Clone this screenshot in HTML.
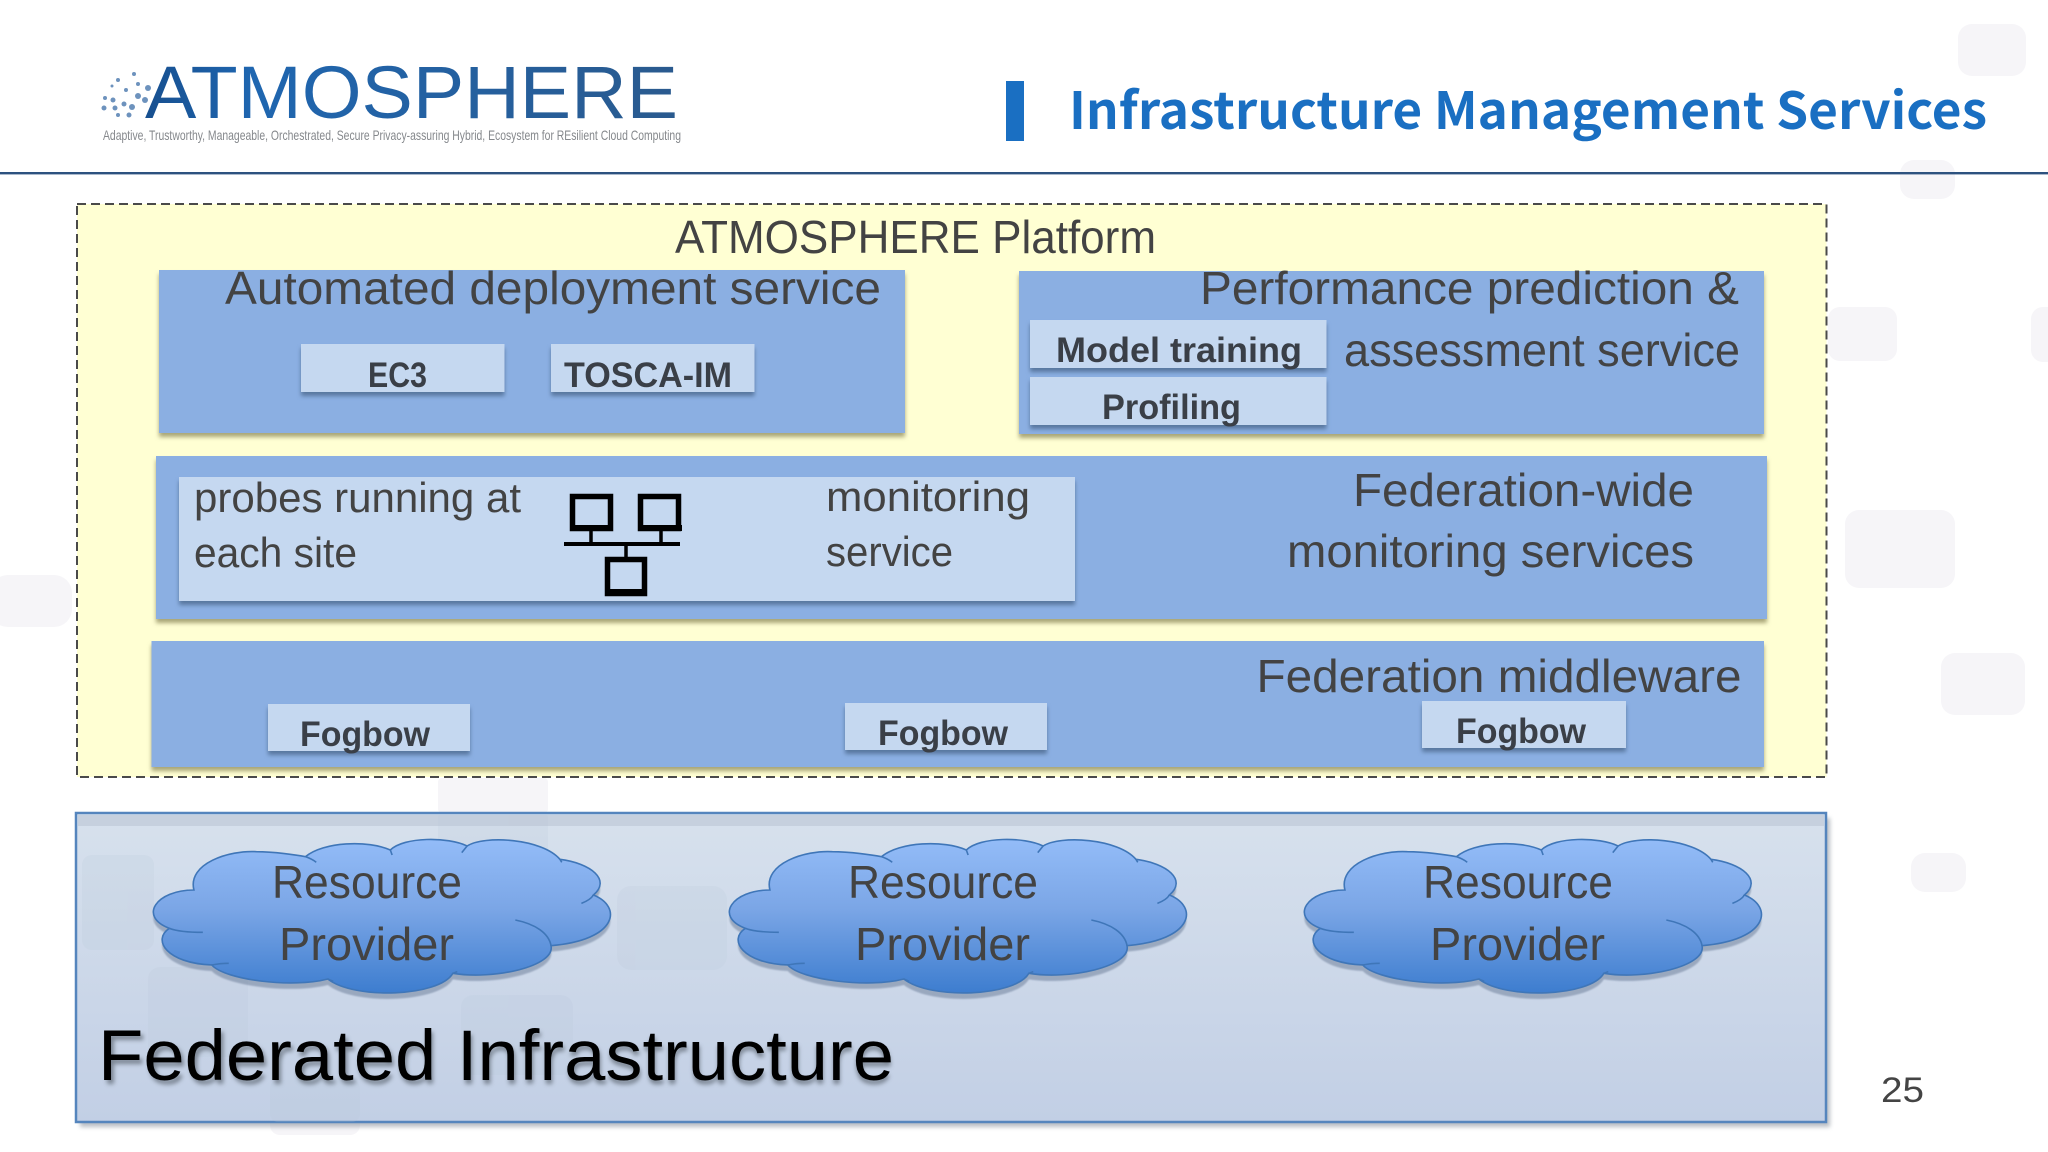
<!DOCTYPE html>
<html><head><meta charset="utf-8"><style>html,body{margin:0;padding:0;background:#fff;width:2048px;height:1152px;overflow:hidden}svg{display:block}
text{font-family:"Liberation Sans",sans-serif;fill:#434343}
.b{font-weight:bold;fill:#3a3f47}</style></head><body>
<svg width="2048" height="1152" viewBox="0 0 2048 1152" xmlns="http://www.w3.org/2000/svg">
<defs>
<linearGradient id="cl" x1="0" y1="0" x2="0" y2="1"><stop offset="0" stop-color="#93bcf8"/><stop offset=".45" stop-color="#7ba6e6"/><stop offset="1" stop-color="#3d7dcf"/></linearGradient>
<linearGradient id="inf" x1="0" y1="0" x2="0" y2="1"><stop offset="0" stop-color="#d7e1ed"/><stop offset="1" stop-color="#c2cfe5"/></linearGradient>
<linearGradient id="lg" x1="0" y1="0" x2="1" y2="0"><stop offset="0" stop-color="#174f8f"/><stop offset=".2" stop-color="#1f66b0"/><stop offset="1" stop-color="#2a5a8e"/></linearGradient>
<filter id="s" x="-5%" y="-10%" width="110%" height="125%"><feGaussianBlur stdDeviation="2"/></filter>
<filter id="t" x="-5%" y="-20%" width="110%" height="140%"><feGaussianBlur stdDeviation="2.2"/></filter>
<g id="cloud">
<g transform="translate(60,800) scale(.4464,.3333)">
<path transform="translate(0,18)" fill="#5d6f8c" opacity=".45" filter="url(#s)" d="M300 270C285 190 380 150 440 155C480 155 530 165 550 170C590 125 690 120 740 150C770 110 870 110 912 138C950 105 1080 115 1120 178C1190 190 1235 240 1195 285C1260 320 1250 420 1100 437C1110 500 970 540 880 520C850 590 660 600 600 537C520 565 370 540 340 495C240 490 205 420 245 385C175 350 215 270 300 270Z"/>
<path fill="url(#cl)" stroke="#3f76b8" stroke-width="1.6" vector-effect="non-scaling-stroke" d="M300 270C285 190 380 150 440 155C480 155 530 165 550 170C590 125 690 120 740 150C770 110 870 110 912 138C950 105 1080 115 1120 178C1190 190 1235 240 1195 285C1260 320 1250 420 1100 437C1110 500 970 540 880 520C850 590 660 600 600 537C520 565 370 540 340 495C240 490 205 420 245 385C175 350 215 270 300 270Z"/>
<path fill="none" stroke="#3f76b8" stroke-width="1.6" vector-effect="non-scaling-stroke" d="M245 385C265 395 295 397 320 397M550 170C560 175 568 180 574 187M740 150L744 165M912 138L900 158M1120 178L1124 187M1195 285C1190 296 1180 304 1168 310M1020 360C1065 372 1095 400 1100 437M340 495C352 492 365 490 378 490M600 537L612 544M880 520L890 515"/>
</g>
</g>
</defs>

<!-- ghost blobs background -->
<g fill="#f6f5f8">
<rect x="1958" y="24" width="68" height="52" rx="14"/>
<rect x="1900" y="160" width="55" height="39" rx="14"/>
<rect x="1828" y="307" width="69" height="54" rx="12"/>
<rect x="2031" y="307" width="30" height="55" rx="12"/>
<rect x="1845" y="510" width="110" height="78" rx="14"/>
<rect x="1941" y="653" width="84" height="62" rx="14"/>
<rect x="1911" y="853" width="55" height="39" rx="14"/>
<rect x="-10" y="575" width="82" height="52" rx="18"/>
<rect x="438" y="778" width="110" height="35" rx="4"/>
<rect x="270" y="1085" width="90" height="50" rx="10"/>
</g>

<!-- logo -->
<text x="145" y="118" font-size="74" textLength="533" lengthAdjust="spacingAndGlyphs" style="fill:url(#lg)">ATMOSPHERE</text>
<g fill="#3d6ea8" opacity=".75">
<circle cx="118" cy="80" r="2"/><circle cx="126" cy="90" r="2"/><circle cx="112" cy="86" r="1.5"/><circle cx="134" cy="74" r="2"/>
<circle cx="113" cy="100" r="2.5"/><circle cx="124" cy="104" r="2.5"/><circle cx="138" cy="96" r="3"/><circle cx="148" cy="88" r="3"/>
<circle cx="105" cy="98" r="2"/><circle cx="118" cy="115" r="2"/><circle cx="129" cy="115" r="2.5"/><circle cx="104" cy="108" r="2.5"/><circle cx="115" cy="108" r="2.5"/><circle cx="132" cy="107" r="3"/><circle cx="145" cy="100" r="3"/><circle cx="138" cy="84" r="2"/>
</g>
<text x="103" y="140" font-size="14" textLength="578" lengthAdjust="spacingAndGlyphs" style="fill:#85888c">Adaptive, Trustworthy, Manageable, Orchestrated, Secure Privacy-assuring Hybrid, Ecosystem for REsilient Cloud Computing</text>

<!-- title -->
<rect x="1006" y="81" width="18" height="60" fill="#1a6fc2"/>
<text x="1069" y="129" font-size="51" textLength="918" lengthAdjust="spacingAndGlyphs" style="font-family:'Noto Sans CJK JP','Liberation Sans',sans-serif;font-weight:bold;fill:#1a6fc2">Infrastructure Management Services</text>
<rect x="0" y="172" width="2048" height="2.4" fill="#2d527f"/>

<!-- platform -->
<rect x="77" y="204" width="1749.5" height="573" fill="#ffffd3" stroke="#4a4a4a" stroke-width="2" stroke-dasharray="9 5"/>
<text x="675" y="253" font-size="46" textLength="481" lengthAdjust="spacingAndGlyphs">ATMOSPHERE Platform</text>

<!-- boxes shadow -->
<g fill="#a9a678" filter="url(#s)">
<rect x="159" y="274" width="746" height="163"/>
<rect x="1019" y="275" width="745" height="163"/>
<rect x="156" y="460" width="1611" height="163"/>
<rect x="151.500" y="645" width="1612.500" height="126"/>
</g>
<g fill="#8bafe2">
<rect x="159" y="270" width="746" height="163"/>
<rect x="1019" y="271" width="745" height="163"/>
<rect x="156" y="456" width="1611" height="163"/>
<rect x="151.500" y="641" width="1612.500" height="126"/>
</g>
<g fill="#59779f" filter="url(#s)">
<rect x="301" y="348" width="203.500" height="48"/>
<rect x="551" y="348" width="203.500" height="48"/>
<rect x="1030" y="324" width="296.500" height="48"/>
<rect x="1030" y="381" width="296.500" height="48"/>
<rect x="179" y="481" width="896" height="124"/>
<rect x="268" y="708" width="202" height="47"/>
<rect x="845" y="707" width="202" height="47"/>
<rect x="1422" y="705" width="204" height="47"/>
</g>
<g fill="#c5d8f0">
<rect x="301" y="344" width="203.500" height="48"/>
<rect x="551" y="344" width="203.500" height="48"/>
<rect x="1030" y="320" width="296.500" height="48"/>
<rect x="1030" y="377" width="296.500" height="48"/>
<rect x="179" y="477" width="896" height="124"/>
<rect x="268" y="704" width="202" height="47"/>
<rect x="845" y="703" width="202" height="47"/>
<rect x="1422" y="701" width="204" height="47"/>
</g>

<text x="225" y="304" font-size="46" textLength="656" lengthAdjust="spacingAndGlyphs">Automated deployment service</text>
<text x="1200" y="304" font-size="46" textLength="539" lengthAdjust="spacingAndGlyphs">Performance prediction &amp;</text>
<text x="1344" y="366" font-size="46" textLength="396" lengthAdjust="spacingAndGlyphs">assessment service</text>
<text class="b" x="368" y="387" font-size="35" textLength="59" lengthAdjust="spacingAndGlyphs">EC3</text>
<text class="b" x="564" y="387" font-size="35" textLength="168" lengthAdjust="spacingAndGlyphs">TOSCA-IM</text>
<text class="b" x="1056" y="362" font-size="35" textLength="246" lengthAdjust="spacingAndGlyphs">Model training</text>
<text class="b" x="1102" y="419" font-size="35" textLength="139" lengthAdjust="spacingAndGlyphs">Profiling</text>

<text x="194" y="512" font-size="42" textLength="327" lengthAdjust="spacingAndGlyphs">probes running at</text>
<text x="194" y="567" font-size="42" textLength="163" lengthAdjust="spacingAndGlyphs">each site</text>
<text x="826" y="511" font-size="42" textLength="204" lengthAdjust="spacingAndGlyphs">monitoring</text>
<text x="826" y="566" font-size="42" textLength="127" lengthAdjust="spacingAndGlyphs">service</text>
<text x="1353" y="506" font-size="46" textLength="341" lengthAdjust="spacingAndGlyphs">Federation-wide</text>
<text x="1287" y="567" font-size="46" textLength="407" lengthAdjust="spacingAndGlyphs">monitoring services</text>
<text x="1256.500" y="692" font-size="46" textLength="485" lengthAdjust="spacingAndGlyphs">Federation middleware</text>
<text class="b" x="300" y="746" font-size="35" textLength="130" lengthAdjust="spacingAndGlyphs">Fogbow</text>
<text class="b" x="878" y="745" font-size="35" textLength="130" lengthAdjust="spacingAndGlyphs">Fogbow</text>
<text class="b" x="1456" y="743" font-size="35" textLength="130" lengthAdjust="spacingAndGlyphs">Fogbow</text>

<!-- network icon -->
<g fill="none" stroke="#000">
<rect x="572.500" y="496.500" width="38" height="32" stroke-width="5.500" />
<rect x="640.500" y="496.500" width="38" height="32" stroke-width="5.500"/>
<rect x="607.500" y="559.500" width="37" height="34" stroke-width="5.500"/>
<path d="M564 544H680" stroke-width="4"/>
<path d="M591 531V544M661 531V544M626 544V557" stroke-width="3.500"/>
</g>
<rect x="570" y="525" width="43" height="6"/><rect x="638" y="525" width="44" height="6"/><rect x="605" y="589" width="42" height="7"/>

<!-- infrastructure -->
<rect x="80" y="818" width="1750" height="309" fill="#8d949f" opacity=".6" filter="url(#s)"/>
<rect x="76" y="813" width="1750" height="309" fill="url(#inf)" stroke="#5585bd" stroke-width="2.500"/>
<rect x="78" y="815" width="1746" height="11" fill="#c6d0de"/>
<g fill="#b9c5d8" opacity=".18">
<rect x="82" y="855" width="72" height="95" rx="10"/>
<rect x="617" y="886" width="110" height="84" rx="14"/>
<rect x="148" y="967" width="100" height="90" rx="12"/>
<rect x="461" y="995" width="112" height="80" rx="12"/>
<rect x="270" y="1080" width="90" height="42" rx="8"/>
<rect x="438" y="815" width="110" height="60" rx="2"/>
</g>
<use href="#cloud"/>
<use href="#cloud" transform="translate(576,0)"/>
<use href="#cloud" transform="translate(1151,0)"/>
<g style="fill:#525a66" font-size="46">
<text x="272" y="898" textLength="190" lengthAdjust="spacingAndGlyphs">Resource</text>
<text x="279" y="960" textLength="175" lengthAdjust="spacingAndGlyphs">Provider</text>
<text x="848" y="898" textLength="190" lengthAdjust="spacingAndGlyphs">Resource</text>
<text x="855" y="960" textLength="175" lengthAdjust="spacingAndGlyphs">Provider</text>
<text x="1423" y="898" textLength="190" lengthAdjust="spacingAndGlyphs">Resource</text>
<text x="1430" y="960" textLength="175" lengthAdjust="spacingAndGlyphs">Provider</text>
</g>
<text x="101" y="1084" font-size="71" textLength="793" lengthAdjust="spacingAndGlyphs" style="fill:#5b6570" opacity=".7" filter="url(#t)">Federated Infrastructure</text>
<text x="98" y="1080" font-size="71" textLength="796" lengthAdjust="spacingAndGlyphs" style="fill:#000">Federated Infrastructure</text>
<text x="1881" y="1102" font-size="35" textLength="43" lengthAdjust="spacingAndGlyphs" style="fill:#444">25</text>
</svg>
</body></html>
